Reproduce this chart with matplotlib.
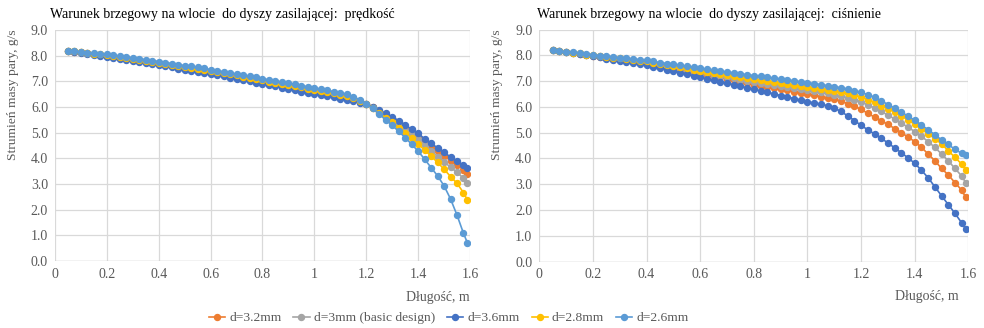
import matplotlib
matplotlib.use("Agg")
import matplotlib.pyplot as plt

plt.rcParams['font.family'] = ['Liberation Serif', 'DejaVu Serif']

# polozenie wzdluz dyszy, m
x = [0.05, 0.075, 0.1, 0.125, 0.15, 0.175, 0.2, 0.225, 0.25, 0.275, 0.3, 0.325,
     0.35, 0.375, 0.4, 0.425, 0.45, 0.475, 0.5, 0.525, 0.55, 0.575, 0.6, 0.625,
     0.65, 0.675, 0.7, 0.725, 0.75, 0.775, 0.8, 0.825, 0.85, 0.875, 0.9, 0.925,
     0.95, 0.975, 1.0, 1.025, 1.05, 1.075, 1.1, 1.125, 1.15, 1.175, 1.2, 1.225,
     1.25, 1.275, 1.3, 1.325, 1.35, 1.375, 1.4, 1.425, 1.45, 1.475, 1.5, 1.525,
     1.55, 1.575, 1.59]

labels = ['d=3.2mm', 'd=3mm (basic design)', 'd=3.6mm', 'd=2.8mm', 'd=2.6mm']
colors = ['#ED7D31', '#A5A5A5', '#4472C4', '#FFC000', '#5B9BD5']

# warunek brzegowy: predkosc
v_32 = [8.20, 8.16, 8.13, 8.09, 8.06, 8.02, 7.99, 7.95, 7.91, 7.87, 7.83, 7.79,
        7.75, 7.71, 7.67, 7.63, 7.58, 7.54, 7.50, 7.46, 7.41, 7.37, 7.33, 7.28,
        7.24, 7.19, 7.15, 7.10, 7.05, 7.01, 6.96, 6.91, 6.86, 6.81, 6.76, 6.72,
        6.67, 6.62, 6.57, 6.53, 6.48, 6.44, 6.39, 6.34, 6.28, 6.20, 6.12, 5.98,
        5.83, 5.69, 5.55, 5.39, 5.22, 5.04, 4.86, 4.67, 4.48, 4.27, 4.09, 3.91,
        3.74, 3.55, 3.38]
v_30 = [8.20, 8.17, 8.13, 8.10, 8.07, 8.03, 8.00, 7.96, 7.93, 7.89, 7.85, 7.81,
        7.78, 7.74, 7.70, 7.66, 7.62, 7.58, 7.54, 7.49, 7.45, 7.41, 7.37, 7.32,
        7.28, 7.23, 7.19, 7.14, 7.09, 7.05, 7.00, 6.95, 6.91, 6.86, 6.81, 6.76,
        6.72, 6.67, 6.62, 6.58, 6.53, 6.49, 6.44, 6.39, 6.32, 6.23, 6.12, 5.97,
        5.80, 5.64, 5.48, 5.30, 5.12, 4.93, 4.74, 4.53, 4.30, 4.07, 3.87, 3.65,
        3.46, 3.22, 3.05]
v_36 = [8.20, 8.16, 8.12, 8.08, 8.04, 8.00, 7.96, 7.92, 7.87, 7.83, 7.79, 7.75,
        7.71, 7.66, 7.62, 7.58, 7.54, 7.49, 7.45, 7.41, 7.37, 7.32, 7.28, 7.23,
        7.19, 7.14, 7.09, 7.04, 7.00, 6.95, 6.90, 6.85, 6.80, 6.75, 6.70, 6.65,
        6.60, 6.55, 6.50, 6.46, 6.41, 6.37, 6.32, 6.27, 6.22, 6.17, 6.12, 6.00,
        5.87, 5.75, 5.62, 5.47, 5.31, 5.13, 4.97, 4.76, 4.58, 4.41, 4.24, 4.05,
        3.88, 3.74, 3.61]
v_28 = [8.20, 8.17, 8.14, 8.11, 8.08, 8.05, 8.02, 7.98, 7.95, 7.91, 7.88, 7.84,
        7.80, 7.77, 7.73, 7.69, 7.65, 7.61, 7.57, 7.53, 7.49, 7.45, 7.41, 7.36,
        7.32, 7.27, 7.23, 7.18, 7.13, 7.09, 7.04, 6.99, 6.95, 6.90, 6.86, 6.81,
        6.76, 6.72, 6.67, 6.62, 6.58, 6.53, 6.48, 6.43, 6.35, 6.24, 6.12, 5.96,
        5.76, 5.58, 5.40, 5.20, 5.00, 4.78, 4.56, 4.32, 4.09, 3.84, 3.58, 3.29,
        3.03, 2.66, 2.38]
v_26 = [8.20, 8.17, 8.15, 8.12, 8.10, 8.07, 8.05, 8.02, 7.98, 7.95, 7.91, 7.88,
        7.84, 7.81, 7.77, 7.73, 7.69, 7.65, 7.61, 7.58, 7.54, 7.50, 7.46, 7.42,
        7.37, 7.33, 7.28, 7.24, 7.19, 7.15, 7.10, 7.06, 7.01, 6.97, 6.92, 6.88,
        6.83, 6.79, 6.74, 6.69, 6.65, 6.60, 6.55, 6.50, 6.40, 6.28, 6.12, 5.95,
        5.72, 5.50, 5.29, 5.05, 4.81, 4.55, 4.28, 3.97, 3.64, 3.32, 2.93, 2.42,
        1.79, 1.08, 0.71]

# warunek brzegowy: cisnienie
p_32 = [8.20, 8.16, 8.13, 8.09, 8.05, 8.02, 7.98, 7.94, 7.91, 7.87, 7.84, 7.80,
        7.76, 7.73, 7.69, 7.64, 7.59, 7.54, 7.49, 7.45, 7.40, 7.35, 7.30, 7.25,
        7.19, 7.14, 7.08, 7.03, 6.97, 6.92, 6.86, 6.82, 6.77, 6.73, 6.68, 6.64,
        6.59, 6.55, 6.50, 6.45, 6.40, 6.35, 6.30, 6.22, 6.13, 6.02, 5.90, 5.75,
        5.60, 5.46, 5.32, 5.16, 5.00, 4.83, 4.65, 4.43, 4.17, 3.91, 3.61, 3.36,
        3.06, 2.77, 2.49]
p_30 = [8.20, 8.16, 8.13, 8.09, 8.06, 8.02, 7.99, 7.96, 7.92, 7.89, 7.86, 7.82,
        7.79, 7.76, 7.72, 7.67, 7.63, 7.58, 7.54, 7.49, 7.44, 7.40, 7.35, 7.30,
        7.25, 7.20, 7.15, 7.11, 7.06, 7.01, 6.96, 6.92, 6.88, 6.84, 6.80, 6.77,
        6.73, 6.69, 6.65, 6.61, 6.56, 6.52, 6.47, 6.41, 6.35, 6.28, 6.20, 6.08,
        5.95, 5.82, 5.68, 5.53, 5.37, 5.21, 5.04, 4.86, 4.65, 4.43, 4.17, 3.91,
        3.61, 3.32, 3.06]
p_36 = [8.20, 8.16, 8.12, 8.08, 8.04, 8.00, 7.96, 7.92, 7.87, 7.83, 7.79, 7.75,
        7.71, 7.66, 7.62, 7.56, 7.50, 7.44, 7.39, 7.33, 7.27, 7.21, 7.15, 7.09,
        7.03, 6.97, 6.92, 6.86, 6.80, 6.74, 6.68, 6.62, 6.56, 6.50, 6.44, 6.38,
        6.32, 6.26, 6.20, 6.15, 6.10, 6.04, 5.95, 5.82, 5.65, 5.47, 5.28, 5.11,
        4.95, 4.78, 4.60, 4.41, 4.22, 4.02, 3.81, 3.54, 3.25, 2.90, 2.55, 2.21,
        1.87, 1.50, 1.25]
p_28 = [8.20, 8.17, 8.13, 8.10, 8.07, 8.03, 8.00, 7.97, 7.94, 7.91, 7.88, 7.85,
        7.82, 7.79, 7.76, 7.71, 7.67, 7.62, 7.58, 7.53, 7.49, 7.44, 7.40, 7.36,
        7.32, 7.28, 7.24, 7.19, 7.15, 7.11, 7.07, 7.03, 7.00, 6.96, 6.93, 6.89,
        6.85, 6.82, 6.78, 6.74, 6.71, 6.67, 6.63, 6.58, 6.52, 6.46, 6.38, 6.28,
        6.17, 6.05, 5.93, 5.80, 5.65, 5.49, 5.32, 5.14, 4.95, 4.77, 4.56, 4.30,
        4.04, 3.78, 3.55]
p_26 = [8.20, 8.17, 8.14, 8.11, 8.08, 8.05, 8.02, 7.99, 7.97, 7.94, 7.91, 7.88,
        7.86, 7.83, 7.80, 7.76, 7.72, 7.68, 7.65, 7.61, 7.57, 7.53, 7.49, 7.46,
        7.42, 7.39, 7.35, 7.32, 7.28, 7.25, 7.21, 7.18, 7.14, 7.11, 7.08, 7.04,
        7.01, 6.97, 6.94, 6.90, 6.86, 6.82, 6.78, 6.74, 6.69, 6.63, 6.56, 6.47,
        6.37, 6.24, 6.09, 5.95, 5.80, 5.64, 5.48, 5.30, 5.11, 4.92, 4.72, 4.54,
        4.35, 4.20, 4.12]

titles = ['Warunek brzegowy na wlocie  do dyszy zasilającej:  prędkość',
          'Warunek brzegowy na wlocie  do dyszy zasilającej:  ciśnienie']
xticks = [0, 0.2, 0.4, 0.6, 0.8, 1.0, 1.2, 1.4, 1.6]
xticklabels = ['0', '0.2', '0.4', '0.6', '0.8', '1', '1.2', '1.4', '1.6']
yticks = [0, 1, 2, 3, 4, 5, 6, 7, 8, 9]
yticklabels = ['%.1f' % v for v in yticks]

fig = plt.figure(figsize=(9.84, 3.28), dpi=100)
ax1 = fig.add_axes([0.0559, 0.2043, 0.4217, 0.7043])
ax2 = fig.add_axes([0.5481, 0.2027, 0.4360, 0.7073])

grey = '#595959'
for ax, series, title, tx, lx in [
        (ax1, [v_32, v_30, v_36, v_28, v_26], titles[0], 0.051, 0.013),
        (ax2, [p_32, p_30, p_36, p_28, p_26], titles[1], 0.546, 0.505)]:
    for ys, c, lab in zip(series, colors, labels):
        ax.plot(x, ys, color=c, lw=1.2, marker='o', ms=4.3, mec=c, mfc=c, label=lab)
    ax.set_xlim(0, 1.6)
    ax.set_ylim(0, 9)
    ax.set_xticks(xticks)
    ax.set_xticklabels(xticklabels)
    ax.set_yticks(yticks)
    ax.set_yticklabels(yticklabels)
    ax.grid(True, color='#d9d9d9', lw=0.9)
    ax.set_axisbelow(True)
    for s in ax.spines.values():
        s.set_visible(False)
    ax.axhline(0, color='#bfbfbf', lw=0.9, zorder=1)
    ax.tick_params(length=0, labelsize=10, colors=grey, pad=5)
    fig.text(tx, 0.955, title, fontsize=10, color='black', ha='left', va='center')
    fig.text(lx, 0.712, 'Strumień masy pary, g/s', fontsize=9.7, color=grey,
             rotation=90, ha='center', va='center')

fig.text(0.4775, 0.093, 'Długość, m', fontsize=10, color=grey, ha='right', va='center')
fig.text(0.974, 0.097, 'Długość, m', fontsize=10, color=grey, ha='right', va='center')

h, l = ax1.get_legend_handles_labels()
fig.legend(h, l, loc='center', bbox_to_anchor=(0.456, 0.03), ncol=5, frameon=False,
           fontsize=9.7, handlelength=1.2, handletextpad=0.3, columnspacing=0.9,
           labelcolor=grey)

fig.savefig('out.png', dpi=100)
